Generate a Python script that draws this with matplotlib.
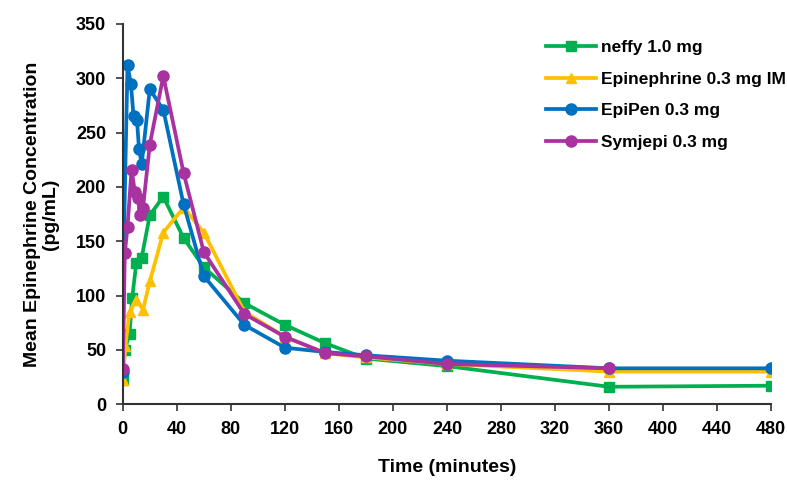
import matplotlib.pyplot as plt

# Mean epinephrine concentration over time
neffy_t = [0, 1.5, 5, 7, 10, 14, 20, 30, 45, 60, 90, 120, 150, 180, 240, 360, 480]
neffy_c = [22, 50, 65, 98, 130, 135, 174, 191, 153, 126, 93, 73, 56, 42, 35, 16, 17]

im_t = [0, 2, 5, 10, 15, 20, 30, 45, 60, 90, 120, 150, 180, 240, 360, 480]
im_c = [22, 54, 85, 96, 87, 113, 158, 181, 158, 85, 62, 47, 43, 37, 30, 30]

epipen_t = [0, 1, 3.5, 6, 8, 10.5, 12, 14, 20, 30, 45, 60, 90, 120, 150, 180, 240, 360, 480]
epipen_c = [30, 163, 312, 295, 265, 262, 235, 221, 290, 271, 184, 118, 73, 52, 48, 45, 40, 33, 33]

symjepi_t = [0, 1.5, 3.5, 6.5, 9, 11, 13, 15, 20, 30, 45, 60, 90, 120, 150, 180, 240, 360]
symjepi_c = [32, 139, 163, 216, 195, 190, 174, 181, 239, 302, 213, 140, 83, 62, 47, 44, 37, 33]

x_ticks = list(range(0, 481, 40))
y_ticks = list(range(0, 351, 50))

font = ['Liberation Sans', 'DejaVu Sans']

fig = plt.figure(figsize=(7.87, 4.8), dpi=100)
ax = fig.add_axes([0.156, 0.158, 0.824, 0.792])

ax.plot(neffy_t, neffy_c, color='#00B050', marker='s', markersize=7.5, linewidth=2.7, label='neffy 1.0 mg')
ax.plot(im_t, im_c, color='#FFC000', marker='^', markersize=7.5, linewidth=2.7, label='Epinephrine 0.3 mg IM')
ax.plot(epipen_t, epipen_c, color='#0070C0', marker='o', markersize=8, linewidth=2.7, label='EpiPen 0.3 mg')
ax.plot(symjepi_t, symjepi_c, color='#A8329F', marker='o', markersize=8, linewidth=2.7, label='Symjepi 0.3 mg')

ax.set_xlim(0, 480)
ax.set_ylim(0, 350)
ax.set_xticks(x_ticks)
ax.set_yticks(y_ticks)
ax.spines['top'].set_visible(False)
ax.spines['right'].set_visible(False)
for s in ['left', 'bottom']:
    ax.spines[s].set_linewidth(1.5)
    ax.spines[s].set_color('#333333')
ax.tick_params(direction='out', length=5, width=1.2, color='#333333', pad=7)
for lab in ax.get_xticklabels() + ax.get_yticklabels():
    lab.set_family(font)
    lab.set_fontweight('bold')
    lab.set_fontsize(13)

ax.set_xlabel('Time (minutes)', family=font, fontweight='bold', fontsize=14, labelpad=15)
ax.set_ylabel('Mean Epinephrine Concentration\n(pg/mL)', family=font, fontweight='bold',
              fontsize=14, labelpad=12, linespacing=1.1)

leg = ax.legend(loc='upper right', bbox_to_anchor=(1.009, 0.935), bbox_transform=fig.transFigure,
                frameon=False, handlelength=2.9, labelspacing=0.95, handletextpad=0.25,
                borderaxespad=0.1, prop={'family': font, 'weight': 'bold', 'size': 12.5})

plt.savefig('out.png', dpi=100)
